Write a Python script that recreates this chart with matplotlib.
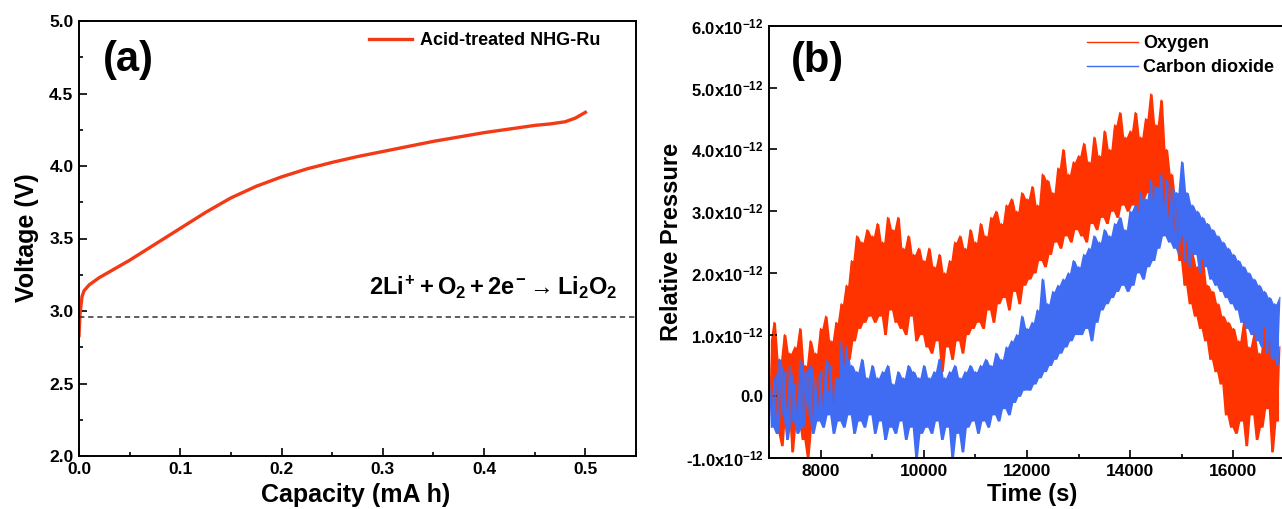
import numpy as np
import matplotlib
matplotlib.use('Agg')
import matplotlib.pyplot as plt
from matplotlib.ticker import MultipleLocator, FuncFormatter

plt.rcParams['font.family'] = ['Liberation Sans', 'DejaVu Sans']
plt.rcParams['font.weight'] = 'bold'
plt.rcParams['mathtext.fontset'] = 'custom'
plt.rcParams['mathtext.rm'] = 'Liberation Sans:bold'
plt.rcParams['mathtext.it'] = 'Liberation Sans:bold'
plt.rcParams['mathtext.bf'] = 'Liberation Sans:bold'

# (a) charge curve
capacity = [0.0, 0.001, 0.003, 0.005, 0.01, 0.02, 0.035, 0.05, 0.075, 0.1,
            0.125, 0.15, 0.175, 0.2, 0.225, 0.25, 0.275, 0.3, 0.325, 0.35,
            0.375, 0.4, 0.425, 0.45, 0.465, 0.48, 0.49, 0.5]
voltage = [2.83, 2.98, 3.10, 3.14, 3.18, 3.23, 3.29, 3.35, 3.46, 3.57,
           3.68, 3.78, 3.86, 3.925, 3.98, 4.025, 4.065, 4.10, 4.135, 4.17,
           4.20, 4.23, 4.255, 4.28, 4.29, 4.305, 4.33, 4.37]
eq_voltage = 2.96

# (b) gas evolution, relative pressure in units of 1e-12, sampled every 50 s from 7000 s
T_START = 7000
T_STEP = 50
oxygen = [
    0.9, -0.3, 1.2, -0.6, 0.6, -0.8, 1.0, -0.2, 0.7, -0.9, 0.8, -0.4, 1.1, -0.7, 0.5, -1.0, 0.9, -0.5, 0.7, -0.3,
    1.1, -0.2, 1.3, 0.1, 0.9, -0.1, 1.2, 0.3, 1.5, 0.5, 1.8, 0.6, 2.2, 0.9, 2.6, 1.1, 2.5, 1.2, 2.7, 1.3,
    2.6, 1.2, 2.8, 1.3, 2.5, 1.0, 2.9, 1.4, 2.7, 1.2, 2.9, 1.1, 2.4, 1.0, 2.6, 1.3, 2.3, 0.9, 2.4, 1.0,
    2.2, 0.8, 2.4, 0.7, 2.1, 0.9, 2.3, 0.4, 2.0, 0.8, 2.2, 0.6, 2.5, 0.9, 2.6, 0.7, 2.4, 1.0, 2.7, 1.1,
    2.5, 1.2, 2.8, 1.1, 2.6, 1.4, 2.9, 1.2, 3.0, 1.5, 2.8, 1.6, 3.1, 1.4, 3.2, 1.7, 3.0, 1.5, 3.3, 1.8,
    3.2, 1.9, 3.4, 2.0, 3.1, 2.2, 3.6, 2.1, 3.5, 2.3, 3.3, 2.5, 3.7, 2.4, 4.0, 2.6, 3.6, 2.5, 3.8, 2.7,
    3.9, 2.6, 4.1, 2.5, 3.8, 2.8, 4.2, 2.7, 3.9, 2.9, 4.3, 2.8, 4.0, 3.0, 4.4, 2.9, 4.6, 3.1, 4.2, 3.0,
    4.3, 3.1, 4.6, 3.0, 4.2, 3.2, 4.5, 3.3, 4.9, 3.2, 4.4, 3.4, 4.8, 3.1, 4.0, 2.9, 3.6, 2.6, 3.2, 2.2,
    2.6, 1.8, 2.5, 1.5, 2.3, 1.3, 2.1, 1.1, 2.2, 0.9, 1.8, 0.6, 1.7, 0.4, 1.5, 0.2, 1.3, -0.3, 1.2, -0.5,
    1.1, -0.6, 0.9, -0.4, 1.2, -0.8, 0.8, -0.3, 1.0, -0.7, 0.7, -0.5, 1.1, -0.2, 0.9, -0.9, 0.6, -0.4, 0.8,
]
carbon_dioxide = [
    0.5, -0.5, 0.3, -0.6, 0.6, -0.3, 0.4, -0.7, 0.5, -0.4, 0.2, -0.6, 0.6, -0.5, 0.4, -0.3, 0.5, -0.6, 0.3, -0.4,
    0.4, -0.5, 0.6, -0.3, 0.5, -0.6, 0.3, -0.4, 0.9, -0.5, 0.8, -0.3, 0.5, -0.6, 0.4, -0.4, 0.6, -0.5, 0.3, -0.3,
    0.5, -0.6, 0.3, -0.4, 0.4, -0.7, 0.5, -0.5, 0.2, -0.6, 0.4, -0.4, 0.3, -0.7, 0.5, -0.5, 0.4, -1.0, 0.3, -0.6,
    0.5, -0.5, 0.3, -0.6, 0.4, -0.4, 0.6, -0.7, 0.3, -0.5, 0.4, -1.0, 0.5, -0.6, 0.3, -0.9, 0.4, -0.5, 0.5, -0.4,
    0.4, -0.6, 0.5, -0.4, 0.6, -0.5, 0.5, -0.3, 0.7, -0.4, 0.6, -0.2, 0.8, -0.3, 0.9, -0.1, 1.0, 0.0, 1.3, 0.1,
    1.1, 0.1, 1.2, 0.2, 1.4, 0.3, 1.9, 0.4, 1.5, 0.5, 1.7, 0.6, 1.8, 0.7, 1.9, 0.8, 2.0, 0.9, 2.2, 1.0,
    2.1, 1.0, 2.3, 1.1, 2.4, 0.9, 2.6, 1.2, 2.5, 1.4, 2.7, 1.5, 2.6, 1.6, 2.8, 1.7, 2.9, 1.8, 2.7, 1.7,
    3.0, 1.8, 3.1, 2.0, 3.3, 1.9, 3.2, 2.1, 3.5, 2.2, 3.4, 2.4, 3.6, 2.6, 3.5, 2.5, 3.4, 2.4, 3.3, 2.3,
    3.8, 2.2, 3.3, 2.1, 3.1, 2.3, 3.0, 2.0, 2.9, 2.1, 2.8, 1.9, 2.7, 1.8, 2.6, 1.7, 2.5, 1.6, 2.4, 1.5,
    2.3, 1.4, 2.2, 1.2, 2.1, 1.1, 2.0, 1.0, 1.9, 0.9, 1.8, 0.8, 1.7, 0.7, 1.6, 0.6, 1.5, 0.5, 1.6,
]
time_s = T_START + T_STEP * np.arange(len(oxygen))

RED = '#F23A16'
O2_RED = '#FF3300'
CO2_BLUE = '#3F6CF2'

W, H = 1282, 509
fig = plt.figure(figsize=(W / 100, H / 100), dpi=100)


def px_box(left, top, right, bottom):
    return [left / W, 1 - bottom / H, (right - left) / W, (bottom - top) / H]


def style_axes(ax, major_len=5.5, minor_len=3):
    for sp in ax.spines.values():
        sp.set_linewidth(1.4)
    ax.tick_params(which='both', direction='in', top=False, right=False, width=1.2)
    ax.tick_params(which='major', length=major_len, labelsize=12.5, pad=4)
    ax.tick_params(which='minor', length=minor_len)
    for lab in ax.get_xticklabels() + ax.get_yticklabels():
        lab.set_fontweight('bold')


def noisy_trace(ax, x, y, color, label):
    # the zigzag of the raw signal, with the area it sweeps between neighbours filled in
    y = np.asarray(y)
    lo = np.minimum(y[:-1], y[1:])
    hi = np.maximum(y[:-1], y[1:])
    ax.fill_between(x[:-1] + T_STEP / 2, lo, hi, color=color, lw=0)
    ax.plot(x, y, color=color, lw=0.9, label=label)


# ---------- panel (a) ----------
ax1 = fig.add_axes(px_box(79, 21, 636, 456))
ax1.plot(capacity, voltage, color=RED, lw=2.4, label='Acid-treated NHG-Ru')
ax1.axhline(eq_voltage, color='#333333', lw=1.1, ls=(0, (3.5, 2.5)))
ax1.set_xlim(0, 0.55)
ax1.set_ylim(2.0, 5.0)
ax1.xaxis.set_major_locator(MultipleLocator(0.1))
ax1.xaxis.set_minor_locator(MultipleLocator(0.05))
ax1.yaxis.set_major_locator(MultipleLocator(0.5))
ax1.yaxis.set_minor_locator(MultipleLocator(0.25))
ax1.xaxis.set_major_formatter(FuncFormatter(lambda v, p: f'{v:.1f}'))
ax1.yaxis.set_major_formatter(FuncFormatter(lambda v, p: f'{v:.1f}'))
style_axes(ax1)
ax1.legend(loc='upper left', bbox_to_anchor=(369 / W, 1 - 32 / H), bbox_transform=fig.transFigure,
           frameon=False, fontsize=13, handlelength=2.4, handletextpad=0.45,
           borderpad=0, borderaxespad=0)
fig.text(128 / W, 1 - 60 / H, '(a)', fontsize=30, fontweight='bold', ha='center', va='center')
fig.text(617 / W, 1 - 287 / H, r'$2Li^{+} + O_{2} + 2e^{-} \rightarrow Li_{2}O_{2}$',
         fontsize=17, ha='right', va='center')
fig.text(27 / W, 1 - 238 / H, 'Voltage (V)', fontsize=18, fontweight='bold',
         rotation=90, ha='center', va='center')
fig.text(356 / W, 1 - 495 / H, 'Capacity (mA h)', fontsize=18, fontweight='bold',
         ha='center', va='center')

# ---------- panel (b) ----------
ax2 = fig.add_axes(px_box(769, 26, 1290, 458))
noisy_trace(ax2, time_s, oxygen, O2_RED, 'Oxygen')
noisy_trace(ax2, time_s, carbon_dioxide, CO2_BLUE, 'Carbon dioxide')
ax2.set_xlim(7000, 7000 + (1290 - 769) / 51.6 * 1000)
ax2.set_ylim(-1.0, 6.0)
ax2.xaxis.set_major_locator(MultipleLocator(2000))
ax2.xaxis.set_minor_locator(MultipleLocator(1000))
ax2.yaxis.set_major_locator(MultipleLocator(1.0))


def sci_label(v, pos):
    if abs(v) < 1e-9:
        return '0.0'
    return f'{v:.1f}x10$^{{-12}}$'


ax2.yaxis.set_major_formatter(FuncFormatter(sci_label))
style_axes(ax2)
ax2.tick_params(axis='y', labelsize=12)
leg2 = ax2.legend(loc='upper left', bbox_to_anchor=(1087 / W, 1 - 35 / H), bbox_transform=fig.transFigure,
                  frameon=False, fontsize=13, handlelength=2.8, handletextpad=0.3,
                  labelspacing=0.4, borderpad=0, borderaxespad=0)
for line in leg2.get_lines():
    line.set_linewidth(1.0)
fig.text(817 / W, 1 - 61 / H, '(b)', fontsize=30, fontweight='bold', ha='center', va='center')
fig.text(672 / W, 1 - 242 / H, 'Relative Pressure', fontsize=17, fontweight='bold',
         rotation=90, ha='center', va='center')
fig.text(1032 / W, 1 - 495 / H, 'Time (s)', fontsize=17, fontweight='bold',
         ha='center', va='center')

fig.savefig('out.png', dpi=100)
